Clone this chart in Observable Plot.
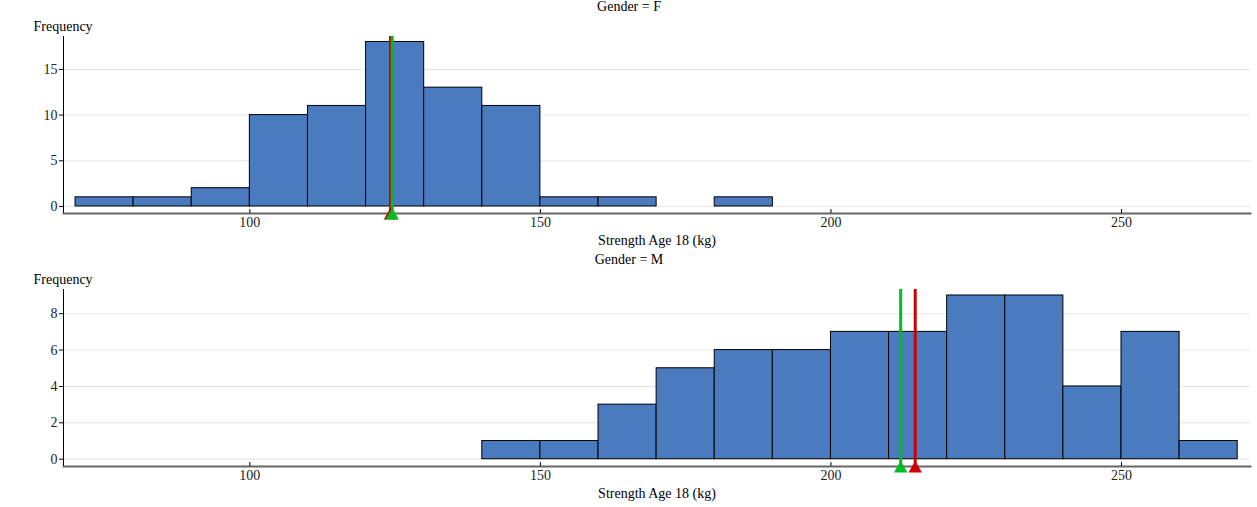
<!DOCTYPE html>
<html>
<head>
<meta charset="utf-8">
<script src="https://cdn.jsdelivr.net/npm/d3@7"></script>
<script src="https://cdn.jsdelivr.net/npm/@observablehq/plot@0.6"></script>
<style>
  html, body { margin: 0; padding: 0; background: #fff; }
  #chart svg { display: block; }
</style>
</head>
<body>
<div id="chart"></div>
<script>
// Data
const binStarts = [70, 80, 90, 100, 110, 120, 130, 140, 150, 160, 170, 180, 190, 200, 210, 220, 230, 240, 250, 260];
const binWidth = 10;
const femaleCounts = [1, 1, 2, 10, 11, 18, 13, 11, 1, 1, 0, 1, 0, 0, 0, 0, 0, 0, 0, 0];
const maleCounts   = [0, 0, 0, 0, 0, 0, 0, 1, 1, 3, 5, 6, 6, 7, 7, 9, 9, 4, 7, 1];
const xTicks = [100, 150, 200, 250];
const femaleYTicks = [0, 5, 10, 15];
const maleYTicks = [0, 2, 4, 6, 8];
const femaleLines = [{v: 124.2, c: "#cc0000"}, {v: 124.5, c: "#00bb22"}];
const maleLines   = [{v: 214.5, c: "#cc0000"}, {v: 212.0, c: "#00bb22"}];
const facetTitles = ["Gender = F", "Gender = M"];
const xLabel = "Strength Age 18 (kg)";
const yLabel = "Frequency";

const font = "Liberation Serif, Times New Roman, serif";

function panel(title, counts, yTicks, yDomain, lines) {
  const bins = binStarts.map((s, i) => ({x1: s, x2: s + binWidth, y: counts[i]})).filter(d => d.y > 0);
  return Plot.plot({
    width: 1257,
    height: 253,
    marginLeft: 63,
    marginRight: 7,
    marginTop: 36,
    marginBottom: 40,
    style: {fontFamily: font, fontSize: "14px", color: "#222", background: "#fff"},
    x: {domain: [67.93, 272.2]},
    y: {domain: yDomain},
    marks: [
      Plot.gridY(yTicks, {stroke: "#e4e4e4", strokeOpacity: 1}),
      Plot.rectY(bins, {x1: "x1", x2: "x2", y: "y", fill: "#4a7bbf", stroke: "#000", strokeWidth: 1}),
      Plot.frame({anchor: "left", stroke: "#000", strokeWidth: 1}),
      Plot.frame({anchor: "bottom", stroke: "#666", strokeWidth: 2}),
      Plot.axisY(yTicks, {tickSize: 4, tickPadding: 2, label: null, fontSize: 14, stroke: "#000"}),
      Plot.axisX(xTicks, {tickSize: 4, dy: -4, tickFormat: () => "", label: null, stroke: "#000"}),
      Plot.axisX(xTicks, {tickSize: 0, tickPadding: 4, label: null, fontSize: 14}),
      Plot.ruleX(lines, {x: "v", stroke: "c", strokeWidth: 3}),
      Plot.dot(lines, {x: "v", frameAnchor: "bottom", dy: 2, symbol: "triangle", r: 5, fill: "c", stroke: null}),
      Plot.text([title], {frameAnchor: "top", lineAnchor: "middle", dy: -30, dx: -28, fontSize: 14, fill: "#000"}),
      Plot.text([yLabel], {frameAnchor: "top-left", lineAnchor: "middle", textAnchor: "start", dx: -30, dy: -10, fontSize: 14, fill: "#000"}),
      Plot.text([xLabel], {frameAnchor: "bottom", lineAnchor: "middle", dy: 27, fontSize: 14, fill: "#000"})
    ]
  });
}

const el = document.getElementById("chart");
el.appendChild(panel(facetTitles[0], femaleCounts, femaleYTicks, [-0.77, 18.6], femaleLines));
el.appendChild(panel(facetTitles[1], maleCounts, maleYTicks, [-0.4, 9.33], maleLines));
</script>
</body>
</html>
